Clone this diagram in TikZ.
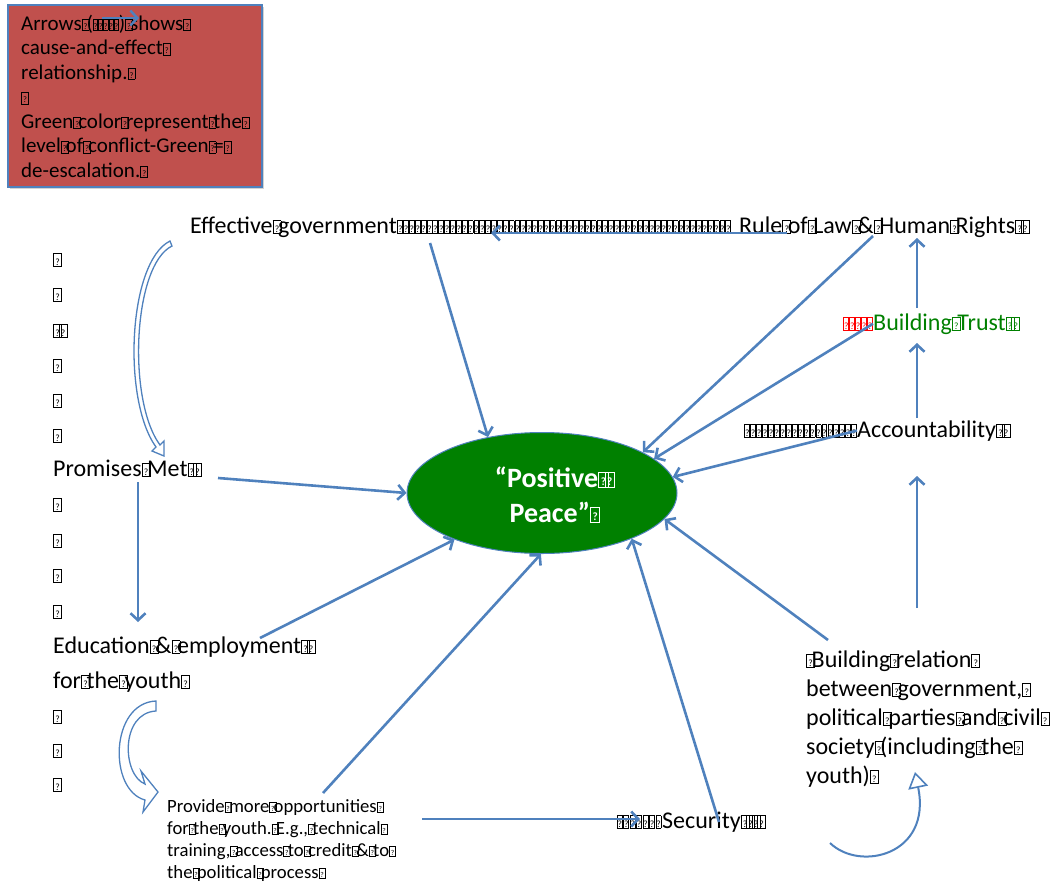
\documentclass[tikz,border=0pt]{standalone}
\usepackage{fontspec}
\setmainfont{Carlito}
\usepackage{graphicx}
\usetikzlibrary{arrows.meta,shapes.geometric,shadows}

\definecolor{arrowblue}{HTML}{4F81BD}
\definecolor{keyred}{HTML}{C0504D}
\definecolor{peacegreen}{HTML}{008000}

% the small boxes that stand for the missing glyphs
\newcommand\qb[1]{{\setlength\fboxsep{0pt}\setlength\fboxrule{0.035em}%
  \fbox{\makebox[#1]{\rule{0pt}{0.5em}\raisebox{0.04em}{\scalebox{0.4}{?}}}}}}
\newcommand\q{\makebox[0.23em][l]{\qb{0.3em}}}
\newcommand\qrun[1]{\makebox[#1][l]{\xleaders\hbox{\qb{0.17em}}\hfill}}

\tikzset{
  lbl/.style={anchor=base west, inner sep=0pt, align=left,
    font=\fontsize{24}{29}\selectfont},
  small/.style={lbl, font=\fontsize{18.7}{22}\selectfont},
  note/.style={lbl, font=\fontsize{21}{24.5}\selectfont},
  link/.style={draw=arrowblue, line width=2.6pt,
    -{Straight Barb[length=7pt,width=15pt]}},
  hollow/.style={draw=arrowblue, line width=1.3pt, fill=white},
}

\begin{document}
\begin{tikzpicture}[x=1pt,y=-1pt]
	\useasboundingbox (0,0) rectangle (1058,884);

	% key
	\path[draw=arrowblue, line width=2pt, fill=keyred,
	  drop shadow={opacity=0.35, shadow xshift=2pt, shadow yshift=-2pt}] (8,5) rectangle (262,187);
	\node[note] (key) at (21,177) {Arrows\q(\qrun{26pt})\q shows\q\\
	  cause-and-effect\q\\ relationship.\q\\ \q\\
	  Green\q color\q represent\q the\q\\ level\q of\q conflict-Green\q =\q\\
	  de-escalation.\q};
	\draw[link, line width=2.4pt] (102,18) -- (139,18);

	% centre
	\node[ellipse, draw=arrowblue, line width=1pt, fill=peacegreen,
	  minimum width=270pt, minimum height=121pt, inner sep=0pt] (peace) at (542,493) {};
	\node[anchor=base, inner sep=0pt, align=center, text=white,
	  font=\fontsize{28}{35}\selectfont\bfseries] (peacetext) at (553,522) {“Positive\q\q\\Peace”\q};

	% top row
	\node[lbl] (gov) at (190,233) {Effective\q government};
	\node[lbl] (govrun) at (gov.base east) {\qrun{334pt}};
	\node[lbl] (law) at (739,233) {Rule\q of\q Law\q\&\q Human\q Rights\q\q};

	% right column
	\node[lbl] (trustpad) at (843,330) {\color{red}\qrun{30pt}};
	\node[lbl, text=peacegreen] (trust) at (873,330) {Building\q Trust\q\q};
	\node[lbl] (accpad) at (744,437) {\qrun{113pt}};
	\node[lbl] (acc) at (857,437) {Accountability\q\q};
	\node[lbl] (rel) at (806,783) {\q Building\q relation\q\\ between\q government,\q\\
	  political\q parties\q and\q civil\q\\ society\q (including\q the\q\\ youth)\q};
	\node[lbl] (secpad) at (616,828) {\qrun{46pt}};
	\node[lbl] (sec) at (662,828) {Security\q\q\q\q};

	% left column
	\node[lbl] (promises) at (53,476) {Promises\q Met\q\q};
	\node[lbl] (edu) at (53,688) {Education\q\&\q employment\q\q\\[6pt]for\q the\q youth\q};
	\node[lbl] (gapB) at (53,337) {\q\q};
	\foreach \y in {266,301,372,407,442,511,547,582,618,723,757,791}
		\node[lbl] (gap\y) at (53,\y) {\q};
	\node[small] (prov) at (167,878) {Provide\q more\q opportunities\q\\
	  for\q the\q youth.\q E.g.,\q technical\q\\ training,\q access\q to\q credit\q\&\q to\q\\
	  the\q political\q process\q};

	% arrows
	\draw[link] ([xshift=48pt]law.base west) -- ([xshift=94pt]govrun.base west);
	\draw[link] ([shift={(33pt,-10pt)}]govrun.base west) -- (peace.134);
	\draw[link] ([shift={(134pt,-3pt)}]law.base west) -- (peace.22);
	\draw[link] ([shift={(44pt,22pt)}]trust.base west) -- ([shift={(178pt,-5pt)}]law.base west);
	\draw[link] (trust.west) -- (peace.17);
	\draw[link] ([shift={(60pt,19pt)}]acc.base west) -- ([shift={(44pt,-13pt)}]trust.base west);
	\draw[link] (acc.west) -- (peace.7);
	\draw[link] ([shift={(111pt,175pt)}]rel.base west) -- ([shift={(60pt,-39pt)}]acc.base west);
	\draw[link] ([shift={(22pt,143pt)}]rel.base west) -- (peace.-12);
	\draw[link] ([shift={(57pt,6pt)}]sec.base west) -- (peace.-27);
	\draw[link] ([shift={(255pt,59pt)}]prov.base west) -- ([shift={(24pt,9pt)}]secpad.base west);
	\draw[link] ([shift={(156pt,85pt)}]prov.base west) -- (peace.-91);
	\draw[link] ([shift={(207pt,50pt)}]edu.base west) -- (peace.208);
	\draw[link] ([shift={(165pt,-2pt)}]promises.base west) -- (peace.180);
	\draw[link] ([shift={(85pt,-6pt)}]promises.base west) -- ([shift={(85pt,66pt)}]edu.base west);

	% hollow curved arrows
	\path[hollow] (170,241) .. controls (128,262) and (122,400) .. (156,447)
	  -- (152,451) -- (164,456) -- (164,441) -- (160,445)
	  .. controls (127,400) and (133,265) .. (172,246) -- cycle;
	\path[hollow] (156,701) .. controls (110,703) and (108,790) .. (145,800)
	  -- (143,812) -- (158,792) -- (141,771) -- (145,784)
	  .. controls (122,775) and (120,713) .. (156,711) -- cycle;
	\draw[draw=arrowblue, line width=2pt,
	  -{Triangle[length=16pt,width=20pt,fill=white,line width=1.6pt]}]
	  (830,843) .. controls (860,872) and (932,855) .. (915,772);
\end{tikzpicture}
\end{document}
